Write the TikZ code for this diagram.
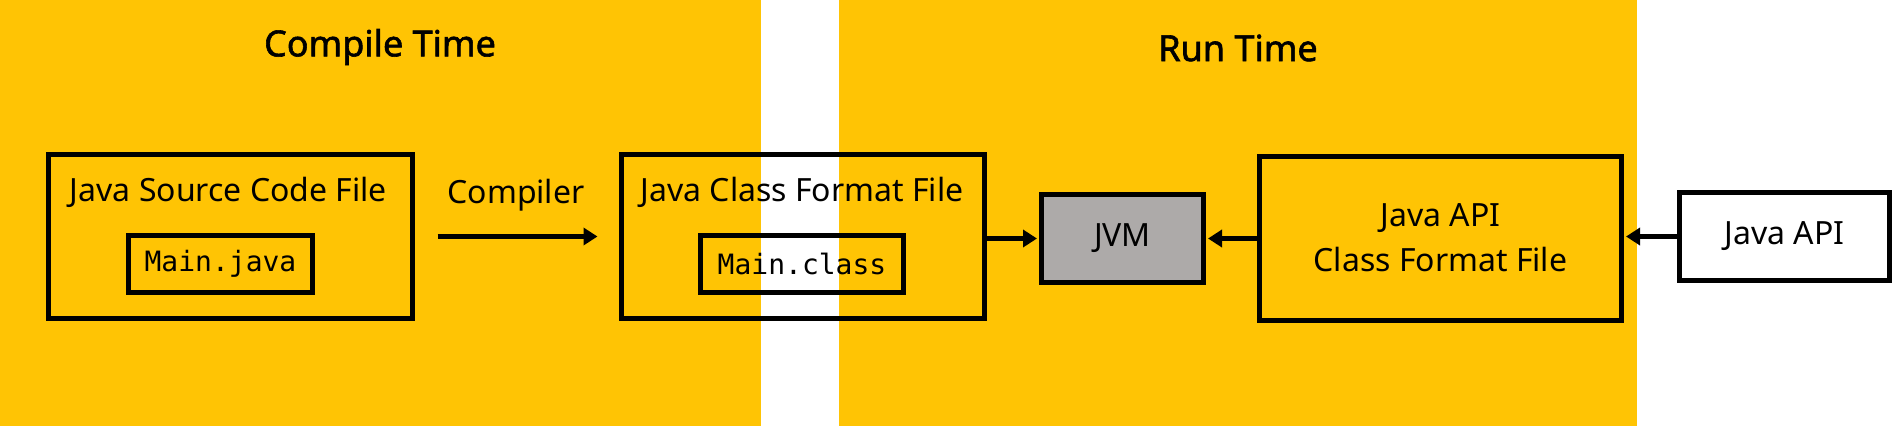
\documentclass[tikz,border=0pt]{standalone}
\usepackage{fontspec}
\setmainfont{Noto Sans}
\setmonofont{DejaVu Sans Mono}
\newfontfamily\titlefont{Noto Sans}[FakeBold=1.6]
\usetikzlibrary{arrows.meta,positioning}
\definecolor{timecolor}{RGB}{255,196,4}
\definecolor{jvmcolor}{RGB}{173,170,169}

\begin{document}
\begin{tikzpicture}[x=1pt, y=-1pt, >={Triangle[length=14pt,width=17pt]},
    every node/.style={font=\fontsize{32}{45}\selectfont, inner sep=0pt},
    titletext/.style={font=\fontsize{36}{40}\titlefont},
    filebox/.style={draw, line width=5pt, minimum height=164pt},
    codebox/.style={draw, line width=5pt, minimum height=57pt, font=\fontsize{28}{30}\selectfont\ttfamily},
    smallbox/.style={draw, line width=5pt, minimum height=88pt},
    flow/.style={->, line width=5pt, shorten >=2pt}]
    \useasboundingbox (0,0) rectangle (1894,426);
    % time panels
    \fill[timecolor] (0,0) rectangle (761,426);
    \fill[timecolor] (839,0) rectangle (1637,426);
    \node[titletext] (ctime) at (380,47) {Compile Time};
    \node[titletext] (rtime) at (1238,48) {Run Time};
    % compile time
    \node[filebox, minimum width=364pt] (srcfile) at (230.5,236.5) {};
    \node (srclabel) at (228.5,192) {Java Source Code File};
    \node[codebox, minimum width=184pt] (mainjava) at (220.5,264) {Main.java};
    \node[filebox, minimum width=363pt] (clsfile) at (803,236.5) {};
    \node (clslabel) at (802,192) {Java Class Format File};
    \node[codebox, minimum width=203pt] (mainclass) at (802,264) {Main.class};
    \draw[flow, shorten >=0pt] ([xshift=22.5pt]srcfile.east) -- ([xshift=-21.5pt]clsfile.west);
    \node (complabel) at (516,195) {Compiler};
    % run time
    \node[smallbox, fill=jvmcolor, minimum width=162pt] (jvm) at (1122.5,238.5) {JVM};
    \node[filebox, minimum width=362pt, align=center] (apiclass) at (1440.5,238) {Java API\\Class Format File};
    \node[smallbox, fill=white, minimum width=210pt] (javaapi) at (1784.5,236.5) {Java API};
    \draw[flow] (clsfile.east |- jvm.west) -- (jvm.west);
    \draw[flow] (apiclass.west |- jvm.east) -- (jvm.east);
    \draw[flow] (javaapi.west) -- (apiclass.east |- javaapi.west);
\end{tikzpicture}
\end{document}
